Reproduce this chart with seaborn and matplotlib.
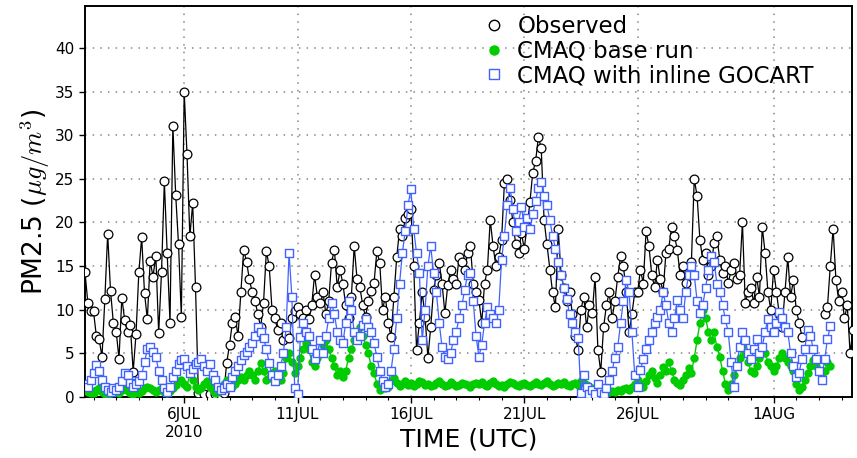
import numpy as np
import pandas as pd
import matplotlib
matplotlib.use("Agg")
import matplotlib.pyplot as plt
import matplotlib.dates as mdates
from matplotlib.lines import Line2D
import seaborn as sns

nan = np.nan

# 3-hourly samples starting 2010-07-01 15Z (one row per day: 00,03,...,21Z)
start_time = "2010-07-01 15:00"

observed = [
    14.3, 10.8, 9.8,
    9.8, 7.0, 6.6, 4.6, 11.2, 18.7, 12.2, 8.5,
    7.5, 4.4, 11.4, 8.8, 7.4, 8.2, 2.9, 7.2,
    14.3, 18.3, 11.9, 8.9, 15.6, 13.8, 16.2, 7.3,
    14.3, 24.7, 16.5, 8.5, 31.1, 23.2, 17.5, 9.2,
    35.0, 27.8, 18.4, 22.2, 12.6, 0.5, nan, 0.3,
    nan, 0.4, nan, 0.3, nan, 0.2, 0.5, 3.9,
    6.0, 8.5, 9.2, 7.0, 12.0, 16.9, 15.5, 13.5,
    12.0, 11.0, 9.5, 8.0, 10.8, 16.7, 15.0, 10.0,
    9.0, 7.7, 8.5, 6.5, 7.2, 6.8, 9.0, 9.8,
    10.3, 9.5, 9.0, 10.0, 8.9, 10.5, 14.0, 11.5,
    10.8, 12.0, 9.5, 11.0, 15.4, 16.9, 12.6, 14.5,
    13.0, 10.5, 9.0, 11.5, 17.3, 13.5, 12.6, 10.5,
    9.2, 11.0, 12.2, 13.1, 16.7, 15.4, 10.0, 11.5,
    8.5, 6.9, 11.5, 16.0, 19.2, 18.4, 20.5, 21.0,
    21.5, 15.0, 5.4, 8.5, 12.0, 9.2, 4.5, 8.0,
    12.3, 14.0, 15.4, 13.0, 9.6, 12.8, 14.5, 13.5,
    13.0, 16.0, 15.5, 14.6, 16.5, 17.3, 13.0, 12.0,
    11.1, 8.5, 13.0, 14.6, 20.3, 17.3, 15.0, 16.0,
    18.0, 24.5, 25.0, 22.6, 20.0, 17.5, 16.5, 18.8,
    17.0, 19.5, 22.3, 25.7, 27.0, 29.8, 28.5, 20.3,
    17.5, 14.6, 12.0, 10.3, 19.2, 14.0, 12.5, 11.0,
    12.0, 9.5, 7.0, 5.4, 10.0, 11.5, 8.0, 10.5,
    9.6, 13.8, 5.4, 2.9, 8.0, 10.5, 12.0, 9.0,
    11.0, 13.8, 16.1, 15.0, 12.0, 7.4, 9.5, 12.0,
    12.0, 14.6, 13.0, 19.0, 17.3, 14.0, 12.6, 15.7,
    13.5, 12.0, 16.5, 17.0, 19.5, 18.5, 16.9, 14.0,
    15.0, 13.1, 14.0, 15.5, 25.0, 23.0, 18.0, 15.7,
    16.5, 14.0, 15.0, 17.7, 18.4, 15.7, 14.2, 15.0,
    13.1, 14.5, 15.4, 13.5, 14.0, 20.0, 10.8, 12.0,
    12.5, 10.8, 13.8, 11.5, 19.5, 16.5, 12.0, 10.0,
    14.6, 12.0, 9.5, 8.0, 12.0, 16.0, 11.5, 13.4,
    10.0, 8.5, 6.9, nan, nan, nan, nan, nan,
    nan, nan, 9.5, 10.3, 15.0, 19.3, 13.4, 11.0,
    12.0, 9.0, 10.5, 5.0, 7.7,
]

cmaq_base = [
    0.8, 0.6, 0.5,
    0.5, 0.8, 1.0, 0.6, 0.4, 0.3, 0.5, 0.7,
    0.6, 0.5, 0.8, 1.0, 0.7, 0.5, 0.4, 0.6,
    0.5, 0.7, 1.0, 1.2, 1.0, 0.8, 0.6, 0.8,
    1.0, 0.6, 0.5, 0.7, 1.0, 1.4, 1.8, 2.0,
    1.5, 1.2, 2.7, 2.0, 1.2, 0.8, 1.0, 1.5,
    1.8, 1.2, 0.8, 0.5, 0.6, 1.0, 1.5, 2.0,
    1.5, 1.2, 1.5, 2.0, 2.3, 2.0, 2.5, 3.0,
    2.5, 2.0, 3.0, 3.9, 3.0, 2.0, 2.2, 2.8,
    3.0, 2.5, 2.0, 2.8, 4.5, 5.0, 4.0, 2.8,
    3.5, 4.5, 5.5, 6.2, 5.5, 4.0, 3.5, 4.5,
    5.0, 6.0, 6.5, 5.5, 4.5, 3.5, 2.5, 3.0,
    2.3, 3.0, 4.5, 5.5, 6.5, 7.5, 8.0, 7.0,
    6.0, 5.0, 3.5, 2.8, 1.5, 0.8, 1.2, 1.0,
    1.2, 1.8, 2.2, 1.6, 1.3, 1.5, 1.8, 1.4,
    1.6, 1.3, 1.5, 1.8, 1.7, 1.4, 1.5, 1.3,
    1.4, 1.6, 1.8, 1.5, 1.3, 1.4, 1.7, 1.5,
    1.3, 1.4, 1.6, 1.5, 1.4, 1.2, 1.5, 1.6,
    1.5, 1.7, 1.4, 1.3, 1.6, 1.8, 1.5, 1.3,
    1.4, 1.2, 1.5, 1.7, 1.6, 1.4, 1.3, 1.5,
    1.6, 1.4, 1.3, 1.5, 1.7, 1.5, 1.4, 1.6,
    1.8, 1.5, 1.3, 1.4, 1.6, 1.5, 1.7, 1.4,
    1.3, 1.5, 1.6, 1.4, 1.8, 1.6, 1.4, 1.2,
    1.0, 0.8, 1.1, 0.9, 0.7, 0.8, 0.6, 0.7,
    0.6, 0.8, 0.7, 0.9, 1.0, 0.8, 1.1, 1.5,
    2.0, 1.5, 1.2, 1.8, 2.5, 3.0, 2.2, 1.6,
    2.5, 3.4, 3.0, 4.0, 3.0, 2.0, 1.6, 1.4,
    2.0, 2.5, 3.3, 2.8, 4.5, 6.5, 8.5, 10.0,
    9.0, 7.5, 6.5, 7.4, 5.7, 4.6, 3.0, 1.5,
    0.8, 1.5, 2.5, 3.5, 4.5, 5.7, 5.0, 4.0,
    3.0, 2.8, 3.5, 4.5, 5.5, 5.0, 4.0, 3.5,
    3.0, 3.5, 4.5, 5.0, 4.5, 4.0, 3.5, 3.0,
    1.5, 0.8, 1.2, 2.0, 2.8, 3.5, 4.2, 3.5,
    3.0, 2.3, 3.0, 4.0, 3.5, nan, nan, nan,
    nan, nan, nan, nan, nan,
]

cmaq_gocart = [
    1.5, 1.1, 2.0,
    2.8, 3.7, 3.0, 2.0, 1.2, 0.8, 0.6, 1.0,
    0.8, 1.2, 1.8, 2.8, 2.5, 1.6, 1.1, 1.5,
    1.8, 2.5, 4.0, 5.5, 5.7, 5.2, 4.6, 3.0,
    2.0, 1.0, 0.6, 1.2, 2.3, 3.0, 3.8, 4.2,
    4.3, 3.5, 2.8, 3.2, 3.8, 4.0, 4.3, 3.6,
    3.0, 3.8, 2.5, 2.0, 1.2, 0.8, 1.0, 1.5,
    1.2, 2.3, 3.0, 3.5, 4.2, 4.8, 5.2, 5.7,
    6.2, 7.0, 8.0, 7.5, 6.8, 5.5, 3.9, 2.5,
    1.8, 2.5, 3.5, 5.0, 8.0, 16.5, 11.5, 1.0,
    0.3, 6.9, 8.5, 7.5, 7.0, 5.5, 4.3, 5.0,
    6.5, 5.0, 7.0, 9.0, 10.8, 9.5, 7.5, 6.5,
    6.2, 8.5, 11.0, 10.0, 7.5, 6.5, 7.0, 8.2,
    8.9, 8.0, 7.5, 6.2, 4.6, 3.0, 1.8, 1.1,
    1.5, 3.0, 5.5, 9.0, 13.0, 16.5, 19.0, 22.0,
    23.8, 19.2, 16.5, 14.2, 6.5, 10.0, 15.0, 17.3,
    14.2, 12.0, 8.5, 5.7, 4.6, 4.3, 5.0, 6.5,
    7.5, 9.0, 10.5, 12.3, 14.0, 14.2, 11.0, 7.0,
    4.6, 6.0, 8.5, 10.3, 9.5, 9.0, 8.5, 10.0,
    15.7, 18.5, 22.0, 24.0, 21.5, 19.0, 20.0, 21.8,
    19.5, 20.5, 19.2, 21.0, 22.5, 24.0, 24.6, 23.0,
    22.0, 20.3, 18.5, 17.0, 15.5, 14.0, 12.5, 11.2,
    9.5, 8.5, 7.5, 6.8, 0.5, 2.5, 1.2, 0.3,
    0.8, 0.4, 1.5, 0.6, 0.3, 1.0, 2.0, 3.0,
    4.5, 5.7, 8.5, 11.0, 13.4, 12.0, 7.4, 2.5,
    1.2, 3.1, 4.3, 5.5, 6.5, 7.5, 8.5, 9.2,
    10.0, 12.0, 10.5, 8.5, 7.4, 9.0, 11.1, 10.0,
    9.0, 12.0, 14.0, 15.0, 14.0, 11.0, 9.6, 10.5,
    12.5, 14.6, 16.1, 15.5, 13.0, 12.0, 10.5, 8.9,
    7.4, 4.0, 1.1, 3.5, 5.7, 7.4, 6.5, 5.0,
    4.3, 5.5, 6.6, 5.0, 5.7, 7.5, 8.9, 8.0,
    7.4, 8.5, 9.7, 9.0, 8.0, 7.5, 5.0, 3.5,
    2.3, 2.8, 4.3, 5.5, 7.7, 7.0, 5.5, 4.3,
    3.0, 2.0, 4.3, 6.6, 8.1, nan, nan, nan,
    nan, nan, nan, nan, nan,
]

tick_dates = ["2010-07-06", "2010-07-11", "2010-07-16", "2010-07-21", "2010-07-26", "2010-08-01"]
tick_labels = ["6JUL\n2010", "11JUL", "16JUL", "21JUL", "26JUL", "1AUG"]
series_labels = ["Observed", "CMAQ base run", "CMAQ with inline GOCART"]

# ---------------------------------------------------------------------------
sns.set_style("ticks")
plt.rcParams["font.family"] = ["DejaVu Sans"]
plt.rcParams["mathtext.fontset"] = "cm"
for k in ("text.color", "axes.labelcolor", "xtick.color", "ytick.color", "axes.edgecolor"):
    plt.rcParams[k] = "black"

time = pd.date_range(start_time, periods=len(observed), freq="3h")
df = pd.DataFrame({"time": time, "obs": observed, "base": cmaq_base, "gocart": cmaq_gocart})

W, H = 857, 458
fig = plt.figure(figsize=(W / 100, H / 100), dpi=100)
L, R, T, B = 85, 852, 6, 397
ax = fig.add_axes([L / W, 1 - B / H, (R - L) / W, (B - T) / H])

GREEN = "#00cc00"
BLUE = "#4262ff"


def segs(col):
    d = df[["time", col]].copy()
    d["seg"] = d[col].isna().cumsum()
    return d.dropna()


# Observed
d = segs("obs")
sns.lineplot(data=d, x="time", y="obs", units="seg", estimator=None, color="black",
             lw=0.9, ax=ax, legend=False, zorder=2)
sns.scatterplot(data=d, x="time", y="obs", marker="o", s=40, color="white",
                edgecolor="black", linewidth=0.9, ax=ax, legend=False, zorder=3)

# CMAQ base run
d = segs("base")
sns.lineplot(data=d, x="time", y="base", units="seg", estimator=None, color=GREEN,
             lw=1.0, ax=ax, legend=False, zorder=4)
sns.scatterplot(data=d, x="time", y="base", marker="o", s=36, color=GREEN,
                linewidth=0, ax=ax, legend=False, zorder=5)

# CMAQ with GOCART
d = segs("gocart")
sns.lineplot(data=d, x="time", y="gocart", units="seg", estimator=None, color=BLUE,
             lw=0.9, ax=ax, legend=False, zorder=6)
sns.scatterplot(data=d, x="time", y="gocart", marker="s", s=40, color="white",
                edgecolor=BLUE, linewidth=1.0, ax=ax, legend=False, zorder=7)

# Axes
ax.set_ylim(0, 44.8)
ax.set_yticks(range(0, 41, 5))
ax.set_xlim(pd.Timestamp("2010-07-01 15:00"), pd.Timestamp("2010-08-04 11:00"))
ax.set_xticks([pd.Timestamp(t) for t in tick_dates])
ax.set_xticklabels(tick_labels)
ax.xaxis.set_minor_locator(mdates.DayLocator())
ax.tick_params(axis="both", which="major", direction="out", length=4, width=1,
               labelsize=11, colors="black")
ax.tick_params(axis="x", which="minor", direction="out", length=2.5, width=0.8)
for s in ax.spines.values():
    s.set_linewidth(1.4)
    s.set_color("black")

ax.grid(True, which="major", color="#888888", linestyle=(0, (1, 4)), linewidth=1.1)
ax.set_axisbelow(True)

ax.set_ylabel(r"PM2.5 ($\mu g/m^{3}$)", fontsize=19, color="black")
ax.yaxis.set_label_coords(-0.043, 0.5)
ax.set_xlabel("TIME (UTC)", fontsize=18, color="black")
ax.xaxis.set_label_coords(0.5, -0.078)

handles = [
    Line2D([], [], ls="none", marker="o", ms=7.5, mfc="white", mec="black", mew=1.0),
    Line2D([], [], ls="none", marker="o", ms=7.5, mfc=GREEN, mec=GREEN, mew=0),
    Line2D([], [], ls="none", marker="s", ms=7.0, mfc="white", mec=BLUE, mew=1.0),
]
leg = fig.legend(handles, series_labels, loc="upper left", bbox_to_anchor=(483 / W, 1 - 15 / H),
                 frameon=False, fontsize=16.5, handlelength=1.0, handletextpad=0.5,
                 labelspacing=0.07, borderpad=0, borderaxespad=0)
for t in leg.get_texts():
    t.set_color("black")

fig.savefig("out.png", dpi=100)
